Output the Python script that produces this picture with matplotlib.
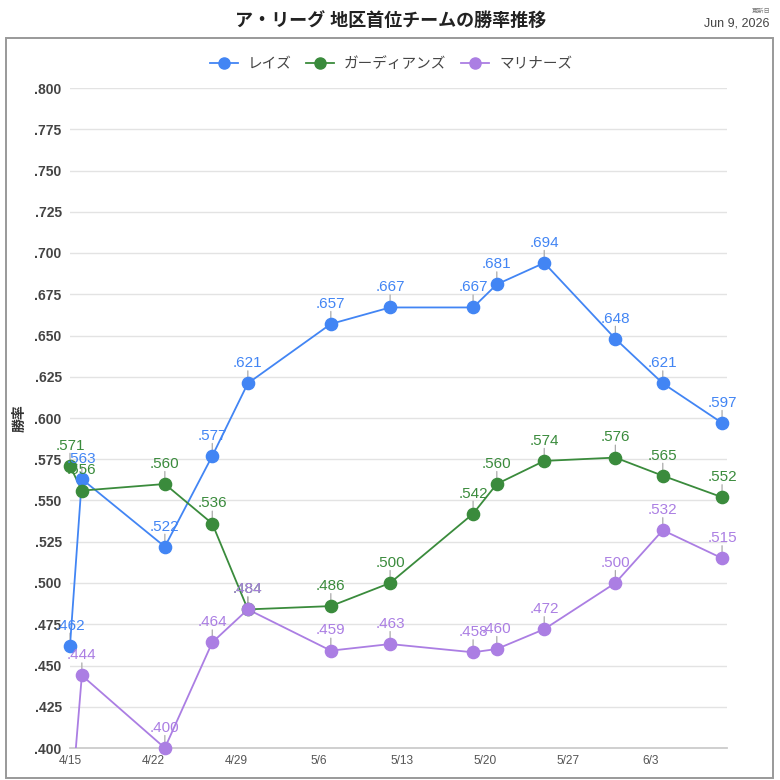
import matplotlib
matplotlib.use("Agg")
import matplotlib.pyplot as plt
from matplotlib.patches import Rectangle
from matplotlib.lines import Line2D
import datetime as dt

plt.rcParams['font.family'] = ['Liberation Sans', 'Noto Sans CJK JP', 'DejaVu Sans']

# ---- data ----
dates = ['2026-04-15', '2026-04-16', '2026-04-23', '2026-04-27', '2026-04-30',
         '2026-05-07', '2026-05-12', '2026-05-19', '2026-05-21', '2026-05-25',
         '2026-05-31', '2026-06-04', '2026-06-09']
rays = [.462, .563, .522, .577, .621, .657, .667, .667, .681, .694, .648, .621, .597]
guardians = [.571, .556, .560, .536, .484, .486, .500, .542, .560, .574, .576, .565, .552]
mariners = [.357, .444, .400, .464, .484, .459, .463, .458, .460, .472, .500, .532, .515]
series_names = ['レイズ', 'ガーディアンズ', 'マリナーズ']
series_colors = ['#4285f4', '#3a8b3c', '#ab7ee3']
tick_dates = ['2026-04-15', '2026-04-22', '2026-04-29', '2026-05-06',
              '2026-05-13', '2026-05-20', '2026-05-27', '2026-06-03']
tick_labels = ['4/15', '4/22', '4/29', '5/6', '5/13', '5/20', '5/27', '6/3']
y_ticks = [.400, .425, .450, .475, .500, .525, .550, .575, .600, .625, .650,
           .675, .700, .725, .750, .775, .800]
title = 'ア・リーグ 地区首位チームの勝率推移'
updated_label = '更新日'
updated_date = 'Jun 9, 2026'
y_label = '勝率'

x = [dt.datetime.strptime(d, '%Y-%m-%d') for d in dates]
xt = [dt.datetime.strptime(d, '%Y-%m-%d') for d in tick_dates]
ymin, ymax = 0.400, 0.800

fig = plt.figure(figsize=(7.8, 7.8), dpi=100)
W = H = 780.0
ax = fig.add_axes([70 / W, 1 - 748 / H, (727 - 70) / W, (748 - 88) / H])

for vals, name, col in zip([rays, guardians, mariners], series_names, series_colors):
    ax.plot(x, vals, color=col, lw=1.3, zorder=3, solid_joinstyle='round')
    vis = [(xi, v) for xi, v in zip(x, vals) if ymin - 1e-9 <= v <= ymax]
    vx = [a for a, b in vis]
    vy = [b for a, b in vis]
    for xi, v in vis:
        ax.annotate('', xy=(xi, v), xytext=(0, 9), textcoords='offset points',
                    arrowprops=dict(arrowstyle='-', color='#aaaaaa', lw=0.9,
                                    shrinkA=0, shrinkB=0),
                    annotation_clip=False, zorder=2)
    ax.plot(vx, vy, 'o', color=col, ms=8.8, zorder=4, clip_on=False, label=name)
    for xi, v in vis:
        ax.annotate(('%.3f' % v)[1:], xy=(xi, v), xytext=(0, 9.5),
                    textcoords='offset points', ha='center', va='bottom',
                    color=col, fontsize=11, annotation_clip=False, zorder=5)

ax.set_ylim(ymin, ymax)
ax.set_xlim(x[0], x[-1] + dt.timedelta(hours=10))
ax.set_yticks(y_ticks)
ax.set_yticklabels([('%.3f' % v)[1:] for v in y_ticks], fontsize=10,
                   fontweight='bold', color='#444444')
ax.set_xticks(xt)
ax.set_xticklabels(tick_labels, fontsize=8.6, color='#555555')
ax.tick_params(axis='both', length=0)
ax.tick_params(axis='y', pad=6)
ax.tick_params(axis='x', pad=5)
ax.grid(axis='y', color='#e3e3e3', lw=1.0, zorder=0)
for s in ['top', 'right', 'left']:
    ax.spines[s].set_visible(False)
ax.spines['bottom'].set_color('#cccccc')
ax.spines['bottom'].set_linewidth(1.3)
ax.set_facecolor('none')

handles = [Line2D([], [], color=c, lw=1.3, marker='o', ms=8) for c in series_colors]
fig.legend(handles, series_names, loc='center', bbox_to_anchor=(391 / W, 1 - 64 / H),
           ncol=3, frameon=False, fontsize=10.5, handlelength=1.9,
           handletextpad=0.7, columnspacing=1.0, labelcolor='#444444')

fig.text(20 / W, 1 - 418 / H, y_label, rotation=90, ha='center', va='center',
         fontsize=10, fontweight='bold', color='#333333')

fig.text(391 / W, 1 - 21 / H, title, ha='center', va='center', fontsize=13,
         fontweight='bold', color='#222222')
fig.text(770 / W, 1 - 11 / H, updated_label, ha='right', va='center', fontsize=4.5,
         color='#777777')
fig.text(770 / W, 1 - 24 / H, updated_date, ha='right', va='center', fontsize=9,
         color='#444444')

fig.patches.append(Rectangle((6 / W, 1 - 778 / H), (773 - 6) / W, (778 - 38) / H,
                             transform=fig.transFigure, fill=False, ec='#999999',
                             lw=1.4, zorder=0))

fig.savefig('out.png', dpi=100)
